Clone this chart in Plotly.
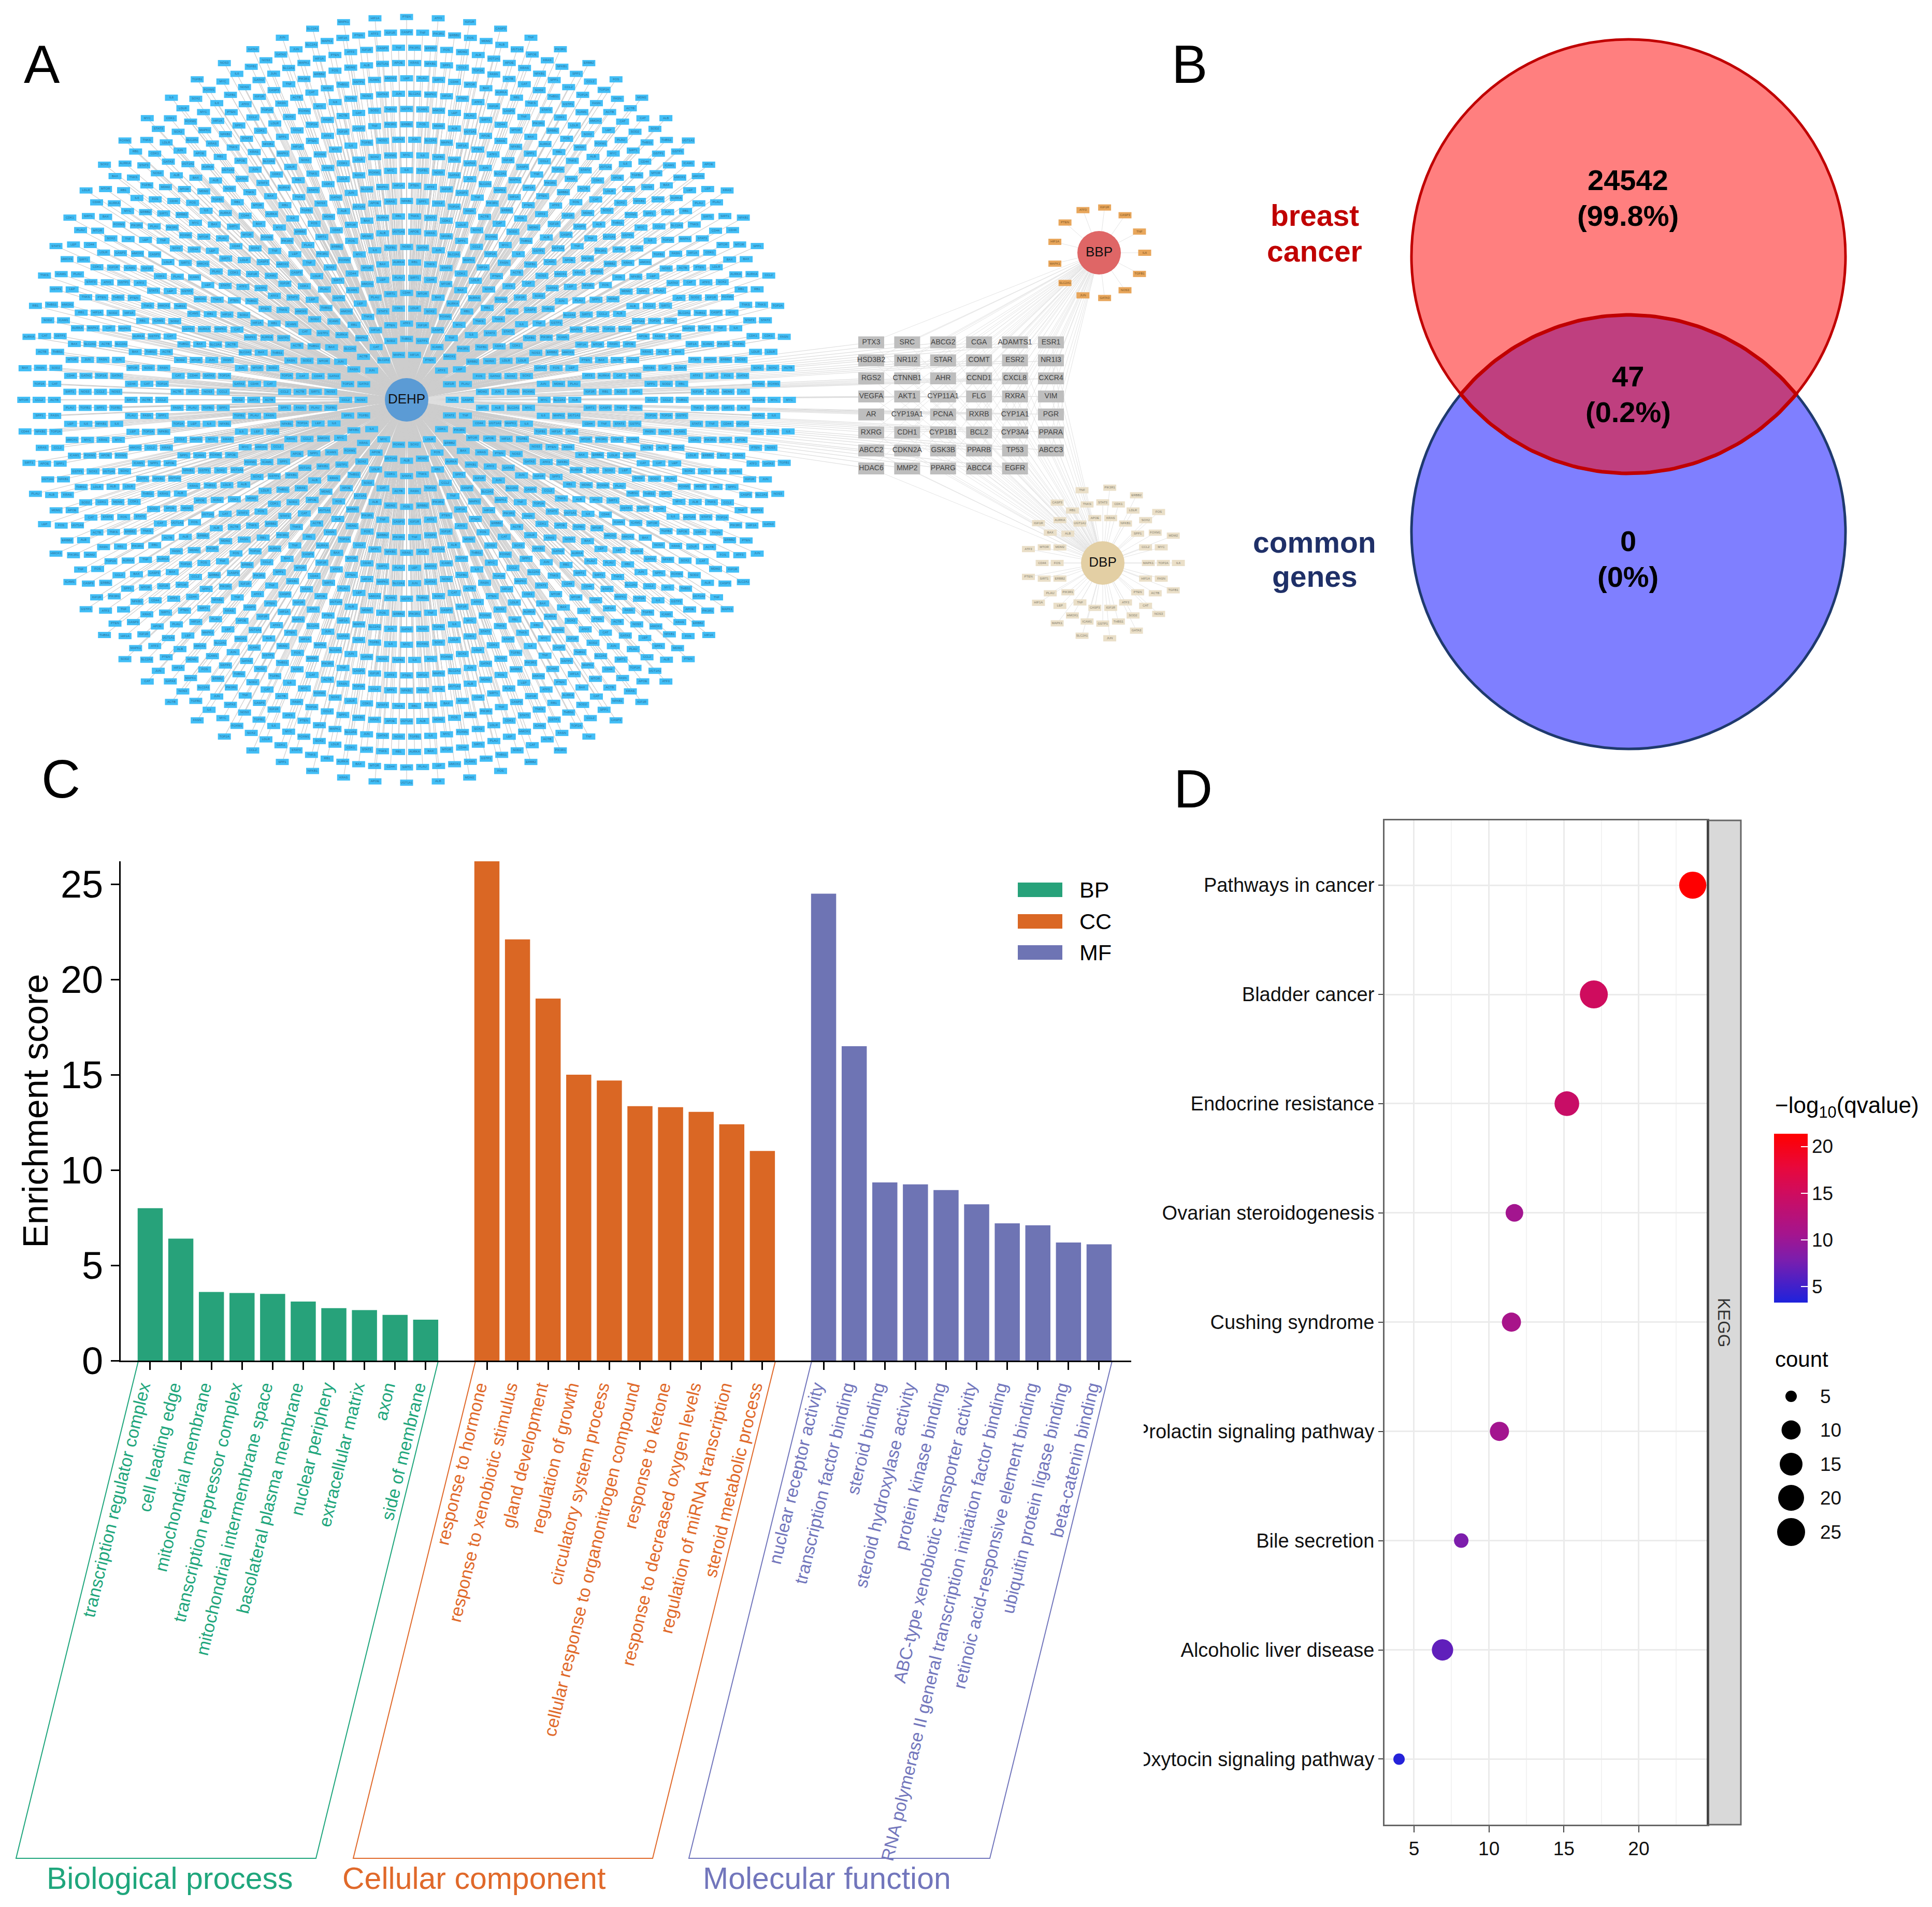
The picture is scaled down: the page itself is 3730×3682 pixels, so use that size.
import numpy as np
import plotly.graph_objects as go

W, H = 3730, 3682
FONT = "Liberation Sans"

# ---------- data ----------
common_genes = [
    ["PTX3", "SRC", "ABCG2", "CGA", "ADAMTS1", "ESR1"],
    ["HSD3B2", "NR1I2", "STAR", "COMT", "ESR2", "NR1I3"],
    ["RGS2", "CTNNB1", "AHR", "CCND1", "CXCL8", "CXCR4"],
    ["VEGFA", "AKT1", "CYP11A1", "FLG", "RXRA", "VIM"],
    ["AR", "CYP19A1", "PCNA", "RXRB", "CYP1A1", "PGR"],
    ["RXRG", "CDH1", "CYP1B1", "BCL2", "CYP3A4", "PPARA"],
    ["ABCC2", "CDKN2A", "GSK3B", "PPARB", "TP53", "ABCC3"],
    ["HDAC6", "MMP2", "PPARG", "ABCC4", "EGFR"],
]
gene_pool = ["TNKS", "STAT3", "CDK1", "LDLR", "SOX2", "FOXM1", "MYC", "IL6", "TGFB1", "NOS3", "GATA3", "JUN",
             "SLC2A1", "MAPK1", "HIF1A", "PTEN", "ATF3", "IGF1R", "CASP3", "TNF", "PIK3R1", "ERBB2", "FOS", "MDM2",
             "ALB", "UGT1A1", "APOE", "KRAS", "NFKB1", "SPP1", "CCL2", "TOP2A", "FASN", "ACTB", "CAT", "SOD2",
             "THBS1", "GSTP1", "ICAM1", "HMOX1", "LEP", "PLAU", "SIRT1", "CD44", "MTOR", "BAX", "AURKA", "RB1"]
dehp_ring_counts = [18 + 6 * k for k in range(22)] + [76]
dehp_half_step = [0, 0, 1, 1, 1, 1, 0, 0, 0, 1, 1, 1, 1, 0, 0, 0, 1, 1, 1, 1, 0, 0, 0]
bbp_ring_counts = [13]
dbp_ring_counts = [18, 24, 17]

bp_terms = ["transcription regulator complex", "cell leading edge", "mitochondrial membrane",
            "transcription repressor complex", "mitochondrial intermembrane space", "basolateral plasma membrane",
            "nuclear periphery", "extracellular matrix", "axon", "side of membrane"]
bp_values = [8.0, 6.4, 3.6, 3.55, 3.5, 3.1, 2.75, 2.65, 2.4, 2.15]
cc_terms = ["response to hormone", "response to xenobiotic stimulus", "gland development", "regulation of growth",
            "circulatory system process", "cellular response to organonitrogen compound", "response to ketone",
            "response to decreased oxygen levels", "regulation of miRNA transcription", "steroid metabolic process"]
cc_values = [26.2, 22.1, 19.0, 15.0, 14.7, 13.35, 13.3, 13.05, 12.4, 11.0]
mf_terms = ["nuclear receptor activity", "transcription factor binding", "steroid binding",
            "steroid hydroxylase activity", "protein kinase binding", "ABC-type xenobiotic transporter activity",
            "RNA polymerase II general transcription initiation factor binding",
            "retinoic acid-responsive element binding", "ubiquitin protein ligase binding", "beta-catenin binding"]
mf_values = [24.5, 16.5, 9.35, 9.25, 8.95, 8.2, 7.2, 7.1, 6.2, 6.1]
go_positions_bp = list(range(0, 10))
go_positions_cc = list(range(11, 21))
go_positions_mf = list(range(22, 32))

kegg_terms = ["Pathways in cancer", "Bladder cancer", "Endocrine resistance", "Ovarian steroidogenesis",
              "Cushing syndrome", "Prolactin signaling pathway", "Bile secretion", "Alcoholic liver disease",
              "Oxytocin signaling pathway"]
kegg_x = [23.6, 17.0, 15.2, 11.7, 11.5, 10.7, 8.15, 6.9, 4.0]
kegg_count = [23, 25, 18, 9, 10, 10, 7, 13, 5]
kegg_q = [21.3, 15.0, 14.3, 10.5, 11.0, 10.5, 8.0, 6.5, 3.6]
count_legend = [5, 10, 15, 20, 25]
count_diam = [22, 37, 44, 50, 54]
color_ticks = [5, 10, 15, 20]

# ---------- colours ----------
C_BP, C_CC, C_MF = "#27A27A", "#DA6724", "#6E74B4"
C_BP_T, C_CC_T, C_MF_T = "#1FA67C", "#E0692A", "#7276BC"


def ring_layout(cx, cy, counts, r0, dr, halves=None):
    xs, ys = [], []
    for k, n in enumerate(counts):
        r = r0 + dr * k
        ph = 0.5 if halves is not None and halves[k] else 0.0
        a = (np.arange(n) + ph) * 2 * np.pi / n
        xs.extend(cx + r * np.cos(a))
        ys.extend(cy + r * np.sin(a))
    return np.array(xs), np.array(ys)


def bars_path(xs, ys, half):
    px, py = [], []
    for x, y in zip(xs, ys):
        px += [x - half, x + half, None]
        py += [y, y, None]
    return px, py


def spokes(cx, cy, xs, ys):
    px, py = [], []
    for x, y in zip(xs, ys):
        px += [cx, x, None]
        py += [cy, y, None]
    return px, py


fig = go.Figure()

# ---------- panel A: network (page-scale axes x/y) ----------
HUB = {"DEHP": (785, 772, "#5B9BD5"), "BBP": (2122, 488, "#DF6666"), "DBP": (2129, 1087, "#E3CFA4")}
dx, dy = ring_layout(785, 772, dehp_ring_counts, 88, 29.6, dehp_half_step)
bx, by = ring_layout(2122, 488, bbp_ring_counts, 88, 30)
tx, ty = ring_layout(2129, 1087, dbp_ring_counts, 88, 29)
gx, gy, glabel = [], [], []
for i, row in enumerate(common_genes):
    for j, g in enumerate(row):
        gx.append(1682 + 69.4 * j)
        gy.append(661 + 34.8 * i)
        glabel.append(g)


def add_lines(px, py, color, width):
    fig.add_trace(go.Scatter(x=px, y=py, mode="lines", line=dict(color=color, width=width),
                             hoverinfo="skip", showlegend=False, xaxis="x", yaxis="y"))


ex, ey = spokes(785, 772, dx, dy)
add_lines(ex, ey, "#CDCDCD", 1.2)
ex, ey = spokes(785, 772, gx, gy)
add_lines(ex, ey, "#DEDEDE", 1.2)
for name in ("BBP", "DBP"):
    hx, hy, _ = HUB[name]
    ex, ey = spokes(hx, hy, gx, gy)
    add_lines(ex, ey, "#E4E4E4", 1.0)
ex, ey = spokes(HUB["BBP"][0], HUB["BBP"][1], bx, by)
add_lines(ex, ey, "#E4E4E4", 1.0)
ex, ey = spokes(HUB["DBP"][0], HUB["DBP"][1], tx, ty)
add_lines(ex, ey, "#E4E4E4", 1.0)


def add_nodes(xs, ys, labels, color, half, height, size, tcolor):
    px, py = bars_path(xs, ys, half)
    add_lines(px, py, color, height)
    fig.add_trace(go.Scatter(x=list(xs), y=list(ys), mode="text", text=labels,
                             textfont=dict(family=FONT, size=size, color=tcolor),
                             hoverinfo="skip", showlegend=False, xaxis="x", yaxis="y"))


def pool(n, start=0):
    return [gene_pool[(i + start) % len(gene_pool)] for i in range(n)]


add_nodes(dx, dy, pool(len(dx)), "#42BEF6", 12.5, 12, 6, "#2A6A92")
add_nodes(bx, by, pool(len(bx), 7), "#E8A65B", 12.5, 12, 6, "#7A5220")
add_nodes(tx, ty, pool(len(tx), 13), "#EADFC8", 12.5, 12, 6, "#7F7A68")
add_nodes(gx, gy, glabel, "#BEBEBE", 25, 23, 14, "#444444")

fig.add_trace(go.Scatter(x=[v[0] for v in HUB.values()], y=[v[1] for v in HUB.values()],
                         mode="markers+text", text=list(HUB.keys()),
                         marker=dict(size=84, color=[v[2] for v in HUB.values()], line=dict(width=0)),
                         textfont=dict(family=FONT, size=26, color="#111111"),
                         textposition="middle center", hoverinfo="skip", showlegend=False, xaxis="x", yaxis="y"))

# ---------- panel B: Venn ----------
shapes = []
VX, VT, VB, VR = 3144, 495, 1027, 419
shapes.append(dict(type="circle", xref="x", yref="y", x0=VX - VR, x1=VX + VR, y0=VB - VR, y1=VB + VR,
                   fillcolor="rgba(0,0,255,0.5)", line=dict(color="#1F3A6E", width=5), layer="below"))
shapes.append(dict(type="circle", xref="x", yref="y", x0=VX - VR, x1=VX + VR, y0=VT - VR, y1=VT + VR,
                   fillcolor="rgba(255,0,0,0.5)", line=dict(color="#C00000", width=5), layer="below"))
half_h = (VB - VT) / 2
alpha = np.arccos(half_h / VR)
t1 = np.linspace(-np.pi / 2 - alpha, -np.pi / 2 + alpha, 80)
t2 = np.linspace(np.pi / 2 - alpha, np.pi / 2 + alpha, 80)
lx = np.r_[VX + VR * np.cos(t1), VX + VR * np.cos(t2), VX + VR * np.cos(t1[0])]
ly = np.r_[VB + VR * np.sin(t1), VT + VR * np.sin(t2), VB + VR * np.sin(t1[0])]
add_lines(list(lx), list(ly), "#C00000", 7)

# ---------- panel C: bars ----------
for xs, ys, terms, c in ((go_positions_bp, bp_values, bp_terms, C_BP),
                         (go_positions_cc, cc_values, cc_terms, C_CC),
                         (go_positions_mf, mf_values, mf_terms, C_MF)):
    fig.add_trace(go.Bar(x=xs, y=ys, marker=dict(color=c, line=dict(width=0)), width=0.82,
                         xaxis="x2", yaxis="y2", showlegend=False, hovertext=terms))

tickvals = go_positions_bp + go_positions_cc + go_positions_mf
ticktext = ([f'<span style="color:{C_BP_T}">{t}</span>' for t in bp_terms]
            + [f'<span style="color:{C_CC_T}">{t}</span>' for t in cc_terms]
            + [f'<span style="color:{C_MF_T}">{t}</span>' for t in mf_terms])

# group brackets
for (a, b, c, d), col in (((267, 31, 610, 846), C_BP_T), ((918, 682, 1260, 1497), C_CC_T),
                          ((1567, 1330, 1911, 2147), C_MF_T)):
    add_lines([a, b, c, d], [2628, 3588, 3588, 2628], col, 2)

# ---------- panel D: dot plot ----------
fig.add_trace(go.Scatter(
    x=kegg_x, y=kegg_terms, mode="markers", xaxis="x3", yaxis="y3", showlegend=False, cliponaxis=False,
    marker=dict(size=list(np.interp(kegg_count, count_legend, count_diam)), color=kegg_q, cmin=3.28, cmax=21.36,
                line=dict(width=0), opacity=1,
                colorscale=[[0, "#1E22DC"], [0.25, "#7A1EAE"], [0.4, "#A3158F"], [0.65, "#CF0C5E"],
                            [0.8, "#E8083C"], [1, "#FF0000"]],
                colorbar=dict(x=3425 / W, xanchor="left", xpad=0, y=1 - 2189 / H, yanchor="top", ypad=0,
                              lenmode="pixels", len=326, thicknessmode="pixels", thickness=65, outlinewidth=0,
                              tickvals=color_ticks, ticks="inside", tickcolor="white", ticklen=13, tickwidth=2,
                              tickfont=dict(family=FONT, size=37, color="#111111")))))

# count legend
legend_rows = [2696, 2761, 2827, 2892, 2958]
fig.add_trace(go.Scatter(x=[3458] * 5, y=legend_rows, mode="markers", xaxis="x", yaxis="y", showlegend=False,
                         marker=dict(size=count_diam, color="black", line=dict(width=0), opacity=1),
                         hoverinfo="skip"))

# strip + frame bits
shapes.append(dict(type="rect", xref="x", yref="y", x0=3297, x1=3361, y0=1584, y1=3523, fillcolor="#D9D9D9",
                   line=dict(color="#666666", width=3), layer="below"))
shapes.append(dict(type="line", xref="x", yref="y", x0=3297, x1=3297, y0=1584, y1=3523,
                   line=dict(color="#444444", width=4), layer="above"))
# left edge cropped row labels
for yc in (2763, 3396):
    shapes.append(dict(type="rect", xref="x", yref="y", x0=2150, x1=2208, y0=yc - 30, y1=yc + 30,
                       fillcolor="white", line=dict(width=0), layer="above"))
# bar-chart key
key_rows = [1718, 1779, 1839]
for yc, c in zip(key_rows, (C_BP, C_CC, C_MF)):
    shapes.append(dict(type="rect", xref="x", yref="y", x0=1965, x1=2051, y0=yc - 14, y1=yc + 14, fillcolor=c,
                       line=dict(width=0), layer="above"))


def note(x, y, text, size, color="black", anchor="center", bold=False, angle=0):
    if bold:
        text = f"<b>{text}</b>"
    return dict(x=x, y=y, xref="x", yref="y", text=text, showarrow=False, xanchor=anchor, yanchor="middle",
                textangle=angle, font=dict(family=FONT, size=size, color=color))


annotations = [
    note(81, 124, "A", 104), note(2296, 124, "B", 104),
    note(117, 1504, "C", 104), note(2303, 1523, "D", 104),
    note(3143, 347, "24542", 56, bold=True), note(3143, 416, "(99.8%)", 56, bold=True),
    note(3143, 726, "47", 56, bold=True), note(3143, 795, "(0.2%)", 56, bold=True),
    note(3143, 1044, "0", 56, bold=True), note(3143, 1113, "(0%)", 56, bold=True),
    note(2538, 416, "breast", 57, "#C00000", bold=True), note(2538, 485, "cancer", 57, "#C00000", bold=True),
    note(2538, 1047, "common", 57, "#1F3068", bold=True), note(2538, 1113, "genes", 57, "#1F3068", bold=True),
    note(328, 3627, "Biological process", 59, C_BP_T), note(915, 3627, "Cellular component", 59, C_CC_T),
    note(1596, 3627, "Molecular function", 59, C_MF_T),
    note(2082, 1718, "BP", 43, anchor="left"), note(2082, 1779, "CC", 43, anchor="left"),
    note(2082, 1839, "MF", 43, anchor="left"),
    note(3329, 2553, "KEGG", 33, "#333333", angle=90),
    note(3425, 2137, "\u2212log<sub>10</sub>(qvalue)", 44, anchor="left"),
    note(3425, 2624, "count", 42, anchor="left"),
]
for yc, c in zip(legend_rows, count_legend):
    annotations.append(note(3512, yc, str(c), 37, "#111111", anchor="left"))

grid = "#EBEBEB"
fig.update_layout(
    width=W, height=H, margin=dict(l=0, r=0, t=0, b=0, autoexpand=False), paper_bgcolor="white",
    plot_bgcolor="rgba(0,0,0,0)",
    font=dict(family=FONT), showlegend=False, bargap=0.18, shapes=shapes, annotations=annotations,
    xaxis=dict(domain=[0, 1], range=[0, W], visible=False, fixedrange=True),
    yaxis=dict(domain=[0, 1], range=[H, 0], visible=False, fixedrange=True),
    xaxis2=dict(domain=[233 / W, 2184 / W], anchor="y2", range=[-0.964, 32.05], tickvals=tickvals, ticktext=ticktext,
                tickangle=-76.5, tickfont=dict(family=FONT, size=34), ticks="outside", ticklen=15, tickwidth=3,
                tickcolor="black", showline=True, linecolor="black", linewidth=3, showgrid=False, zeroline=False,
                automargin=False, ticklabelshift=-16),
    yaxis2=dict(domain=[1 - 2627 / H, 1 - 1663 / H], anchor="x2", range=[0, 26.2], tickvals=[0, 5, 10, 15, 20, 25],
                tickfont=dict(family=FONT, size=74, color="black"), ticks="outside", ticklen=16, tickwidth=3,
                tickcolor="black", showline=True, linecolor="black", linewidth=3, showgrid=False, zeroline=False,
                automargin=False,
                title=dict(text="Enrichment score", font=dict(family=FONT, size=68, color="black"), standoff=3)),
    xaxis3=dict(domain=[2673 / W, 3297 / W], anchor="y3", range=[3.03, 24.6], tickvals=[5, 10, 15, 20],
                tickfont=dict(family=FONT, size=37, color="#111111"), ticks="outside", ticklen=12, tickwidth=2,
                tickcolor="#444444", showline=True, linecolor="#666666", linewidth=3, mirror=True, zeroline=False,
                showgrid=True, gridcolor=grid, gridwidth=3, automargin=False,
                minor=dict(tickvals=[7.5, 12.5, 17.5, 22.5], showgrid=True, gridcolor="#F3F3F3", gridwidth=2, ticks="")),
    yaxis3=dict(domain=[1 - 3523 / H, 1 - 1584 / H], anchor="x3", type="category", categoryorder="array",
                categoryarray=kegg_terms, range=[8.6, -0.593], tickfont=dict(family=FONT, size=38, color="#111111"),
                ticks="outside", ticklen=9, tickwidth=2, tickcolor="#444444", showline=True, linecolor="#666666",
                linewidth=3, mirror=True, zeroline=False, showgrid=True, gridcolor=grid, gridwidth=3, automargin=False),
)

fig.write_html("out.html", post_script="document.body.style.margin='0';", config=dict(displayModeBar=False))
